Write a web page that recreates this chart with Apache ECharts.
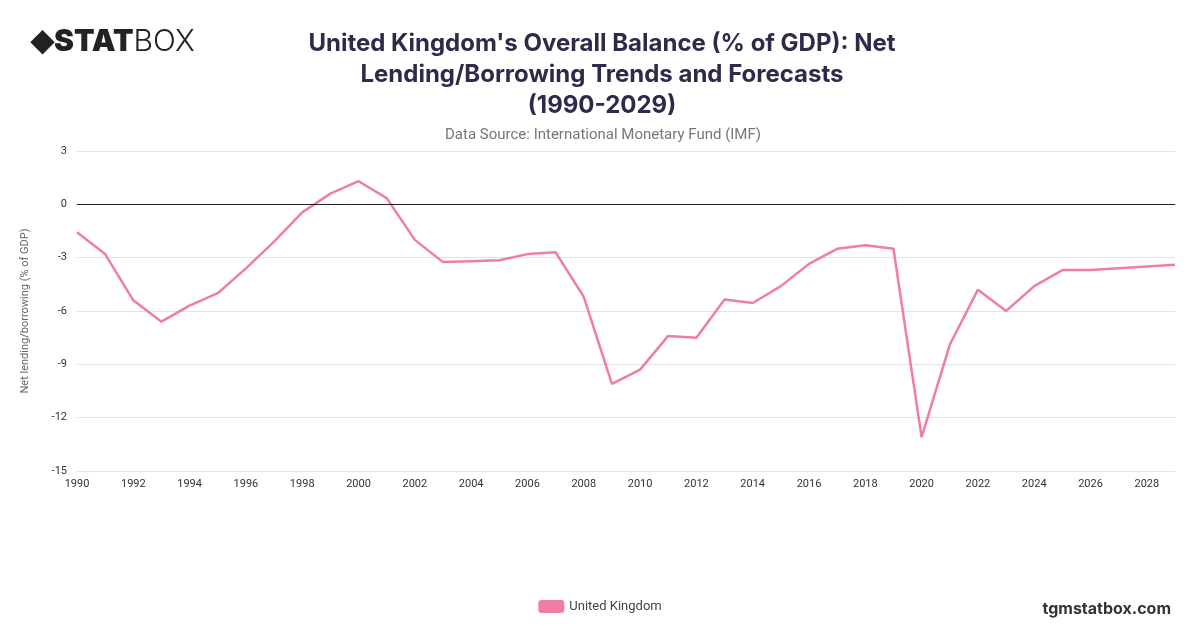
<!DOCTYPE html>
<html><head><meta charset="utf-8">
<script src="https://cdn.jsdelivr.net/npm/echarts@6/dist/echarts.min.js"></script>
<style>html,body{margin:0;padding:0;background:#fff}#c{width:1200px;height:628px}</style>
</head><body><div id="c"></div>
<script>
const years = [];
for (let y = 1990; y <= 2029; y++) years.push(String(y));
const ukValues = [-1.57,-2.8,-5.4,-6.6,-5.7,-5.0,-3.6,-2.1,-0.45,0.6,1.3,0.35,-2.0,-3.25,-3.2,-3.15,-2.8,-2.7,-5.2,-10.1,-9.3,-7.4,-7.5,-5.35,-5.55,-4.6,-3.35,-2.5,-2.3,-2.5,-13.1,-7.9,-4.8,-6.0,-4.6,-3.7,-3.7,-3.6,-3.5,-3.4];
const chart = echarts.init(document.getElementById('c'));
chart.setOption({
  animation:false,
  title:[
    {text:"United Kingdom's Overall Balance (% of GDP): Net\nLending/Borrowing Trends and Forecasts\n(1990-2029)",left:597,top:23,textAlign:'center',
     textStyle:{fontFamily:'Inter',fontSize:24,fontWeight:'bold',color:'#2d2a4a',lineHeight:31}},
    {text:'Data Source: International Monetary Fund (IMF)',left:598,top:123,textAlign:'center',
     textStyle:{fontFamily:'Roboto',fontSize:15,fontWeight:'normal',color:'#777'}},
    {text:'{a|◆}{b|STAT}{c|BOX}',left:26,top:22,textStyle:{rich:{
      a:{fontSize:30,color:'#222'},
      b:{fontFamily:'Inter',fontSize:30,fontWeight:'900',color:'#222'},
      c:{fontFamily:'Inter',fontSize:30,fontWeight:'300',color:'#222'}}}},
    {text:'tgmstatbox.com',right:24,top:596,textStyle:{fontFamily:'Inter',fontSize:16,fontWeight:'bold',color:'#333'}}
  ],
  legend:{bottom:10,left:'center',itemWidth:26,itemHeight:13,icon:'roundRect',
    textStyle:{fontFamily:'Roboto',fontSize:13,color:'#444'},data:['United Kingdom']},
  grid:{left:77,right:25,top:151,bottom:157},
  xAxis:{type:'category',data:years,boundaryGap:false,
    axisLine:{lineStyle:{color:'#999'}},axisTick:{show:false},
    axisLabel:{interval:1,fontFamily:'Roboto',fontSize:11,color:'#333'}},
  yAxis:{type:'value',min:-15,max:3,interval:3,
    name:'Net lending/borrowing (% of GDP)',nameLocation:'middle',nameGap:46,
    nameTextStyle:{fontFamily:'Roboto',fontSize:11,color:'#666'},
    axisLabel:{fontFamily:'Roboto',fontSize:11,color:'#333',margin:10},
    axisTick:{show:false},axisLine:{show:false},
    splitLine:{lineStyle:{color:'#e3e3e3'}}},
  series:[{name:'United Kingdom',type:'line',data:ukValues,symbol:'none',
    lineStyle:{color:'#f07ca8',width:2.5},itemStyle:{color:'#f07ca8'},
    markLine:{silent:true,symbol:'none',label:{show:false},lineStyle:{color:'#222',width:1,type:'solid'},data:[{yAxis:0}]}}]
});
</script></body></html>
